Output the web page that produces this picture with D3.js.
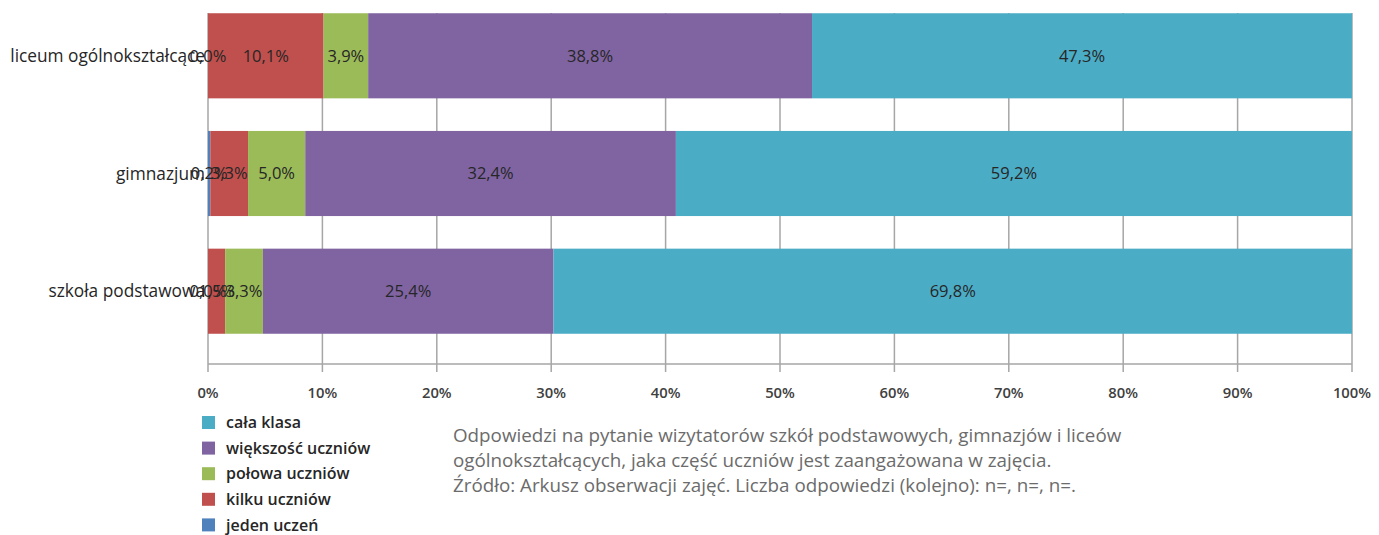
<!DOCTYPE html>
<html>
<head>
<meta charset="utf-8">
<script src="https://cdnjs.cloudflare.com/ajax/libs/d3/7.8.5/d3.min.js"></script>
<style>
  body { margin: 0; background: #fff; }
  svg text { font-family: "Open Sans", sans-serif; }
</style>
</head>
<body>
<svg id="chart" width="1379" height="535"></svg>
<script>
// stacked 100% bars - zaangażowanie uczniów

var categories = ["liceum ogólnokształcące", "gimnazjum", "szkoła podstawowa"];
var seriesNames = ["jeden uczeń", "kilku uczniów", "połowa uczniów", "większość uczniów", "cała klasa"];
var jeden = [0.0, 0.2, 0.0];
var kilku = [10.1, 3.3, 1.5];
var polowa = [3.9, 5.0, 3.3];
var wiekszosc = [38.8, 32.4, 25.4];
var calaKlasa = [47.3, 59.2, 69.8];
var xTicks = [0, 10, 20, 30, 40, 50, 60, 70, 80, 90, 100];
var noteLines = [
  "Odpowiedzi na pytanie wizytatorów szkół podstawowych, gimnazjów i liceów",
  "ogólnokształcących, jaka część uczniów jest zaangażowana w zajęcia.",
  "Źródło: Arkusz obserwacji zajęć. Liczba odpowiedzi (kolejno): n=, n=, n=."
];

var colors = ["#4F81BD", "#C0504D", "#9BBB59", "#8064A2", "#4BACC6"];

var svg = d3.select("#chart"),
    margin = {top: 13, left: 208, right: 27},
    width = 1379 - margin.left - margin.right,
    axisY = 364;

var rows = categories.map(function(c, i) {
  return {cat: c, values: [jeden[i], kilku[i], polowa[i], wiekszosc[i], calaKlasa[i]]};
});

var x = d3.scaleLinear().domain([0, 100]).range([margin.left, margin.left + width]);
var y = d3.scaleBand().domain(categories).range([-3, 350])
    .paddingInner(0.277).paddingOuter(0.138);
var z = d3.scaleOrdinal().domain(seriesNames).range(colors);

// gridlines
svg.append("g").selectAll("line")
  .data(xTicks)
  .enter().append("line")
  .attr("x1", function(d) { return x(d); })
  .attr("x2", function(d) { return x(d); })
  .attr("y1", margin.top)
  .attr("y2", axisY + 8)
  .attr("stroke", "#a6a6a6")
  .attr("stroke-width", 1.5);

svg.append("line")
  .attr("x1", x(0)).attr("x2", x(100))
  .attr("y1", axisY).attr("y2", axisY)
  .attr("stroke", "#a6a6a6")
  .attr("stroke-width", 1.5);

// bars
var segs = [];
rows.forEach(function(r) {
  var acc = 0;
  r.values.forEach(function(v, j) {
    segs.push({cat: r.cat, name: seriesNames[j], v: v, x0: acc, x1: acc + v});
    acc += v;
  });
});

svg.append("g").selectAll("rect")
  .data(segs)
  .enter().append("rect")
  .attr("x", function(d) { return x(d.x0); })
  .attr("y", function(d) { return y(d.cat); })
  .attr("width", function(d) { return Math.max(0, x(Math.min(d.x1, 100)) - x(d.x0)); })
  .attr("height", y.bandwidth())
  .attr("fill", function(d) { return z(d.name); });

// value labels (Excel-style, centred in each segment, allowed to overlap)
var fmt = function(v) { return v.toFixed(1).replace(".", ",") + "%"; };
svg.append("g").selectAll("text")
  .data(segs)
  .enter().append("text")
  .attr("x", function(d) { return x((d.x0 + Math.min(d.x1, 100)) / 2); })
  .attr("y", function(d) { return y(d.cat) + y.bandwidth() / 2; })
  .attr("dy", "0.35em")
  .attr("text-anchor", "middle")
  .style("font-size", "16.5px")
  .style("fill", "#262626")
  .text(function(d) { return fmt(d.v); });

// category labels
svg.append("g").selectAll("text")
  .data(categories)
  .enter().append("text")
  .attr("x", margin.left - 3)
  .attr("y", function(d) { return y(d) + y.bandwidth() / 2; })
  .attr("dy", "0.35em")
  .attr("text-anchor", "end")
  .style("font-size", "17.3px")
  .style("fill", "#262626")
  .text(function(d) { return d; });

// x tick labels
svg.append("g").selectAll("text")
  .data(xTicks)
  .enter().append("text")
  .attr("x", function(d) { return x(d); })
  .attr("y", 398)
  .attr("text-anchor", "middle")
  .style("font-size", "14.8px")
  .style("font-weight", "600")
  .style("fill", "#404040")
  .text(function(d) { return d + "%"; });

// legend
var legend = svg.append("g").selectAll("g")
  .data(seriesNames.slice().reverse())
  .enter().append("g")
  .attr("transform", function(d, i) { return "translate(202," + (416 + i * 25.6) + ")"; });

legend.append("rect")
  .attr("width", 13).attr("height", 13)
  .attr("fill", function(d) { return z(d); });

legend.append("text")
  .attr("x", 24).attr("y", 6.5)
  .attr("dy", "0.35em")
  .style("font-size", "16px")
  .style("font-weight", "600")
  .style("fill", "#262626")
  .text(function(d) { return d; });

// note
svg.append("g").selectAll("text")
  .data(noteLines)
  .enter().append("text")
  .attr("x", 453)
  .attr("y", function(d, i) { return 442 + i * 25; })
  .style("font-size", "18.8px")
  .style("fill", "#6b6b6b")
  .text(function(d) { return d; });
</script>
</body>
</html>
